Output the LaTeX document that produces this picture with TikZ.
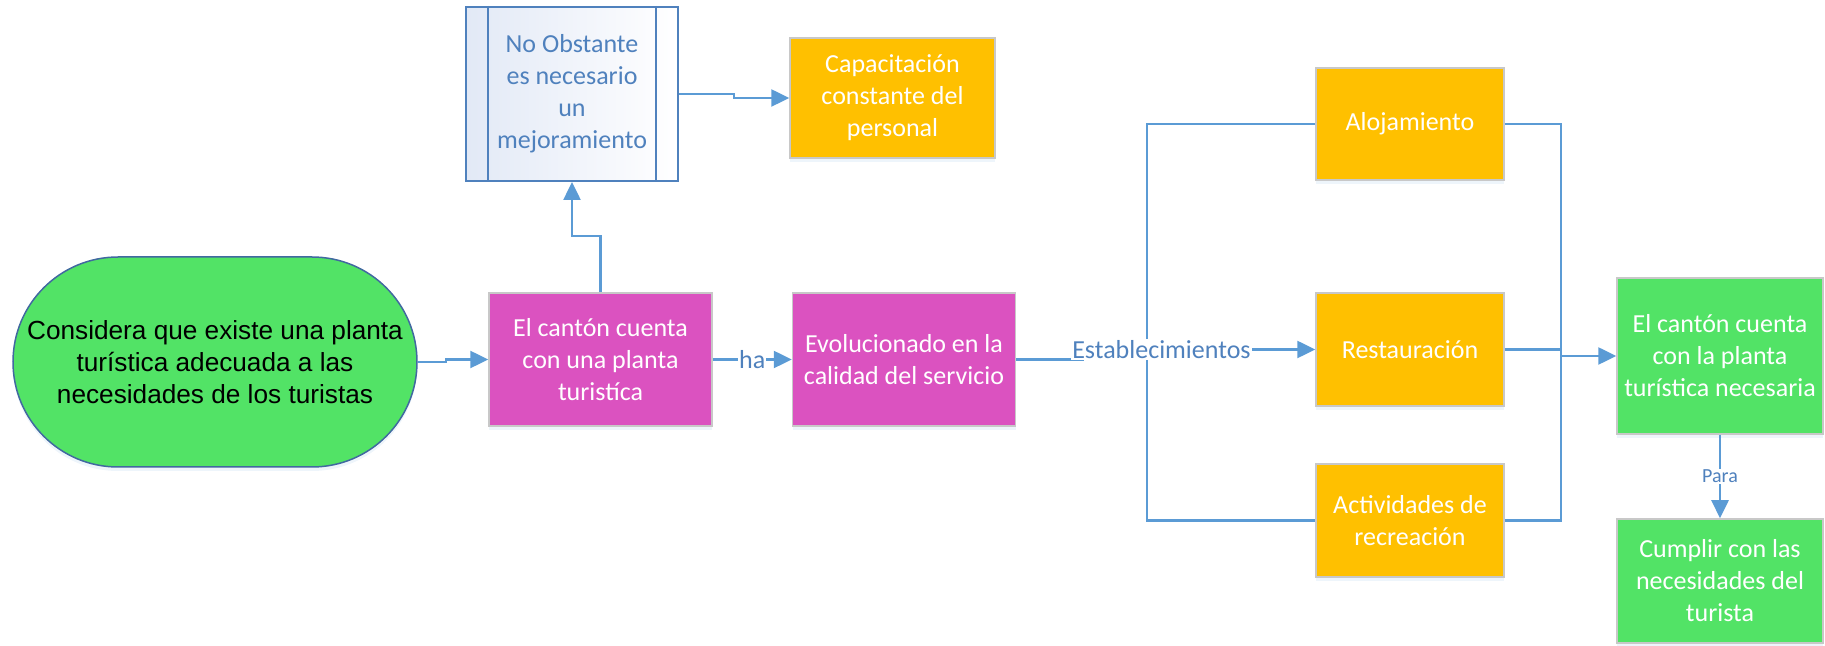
\documentclass[tikz,border=0pt]{standalone}
\usepackage{fontspec}
\setmainfont{Carlito}
\newfontfamily\arialfont{Liberation Sans}
\usepackage{xcolor}
\usetikzlibrary{arrows.meta, positioning, shadows}

\definecolor{boxgreen}{RGB}{82,227,102}
\definecolor{boxpink}{RGB}{219,82,192}
\definecolor{boxorange}{RGB}{255,192,0}
\definecolor{linkblue}{RGB}{91,155,213}
\definecolor{textblue}{RGB}{79,129,189}
\definecolor{termborder}{RGB}{65,105,160}
\definecolor{boxedge}{RGB}{200,200,200}
\definecolor{procfill}{RGB}{226,233,246}

\begin{document}
\begin{tikzpicture}[x=1pt, y=1pt,
  boxbase/.style={draw=boxedge, line width=1.5pt, inner sep=0pt, align=center,
                  text=white, font=\fontsize{26}{32}\selectfont,
                  drop shadow={shadow xshift=0pt, shadow yshift=-4pt, opacity=0.25, fill=linkblue!40}},
  pinkbox/.style={boxbase, fill=boxpink, minimum width=223pt, minimum height=133pt},
  orangebox/.style={boxbase, fill=boxorange, minimum width=188pt, minimum height=113pt},
  greenbox/.style={boxbase, fill=boxgreen, minimum width=206pt},
  startnode/.style={draw=termborder, line width=1.5pt, fill=boxgreen, rounded corners=105pt,
                    minimum width=404pt, minimum height=210pt, inner sep=0pt, align=center,
                    font=\arialfont\fontsize{26.2}{32}\selectfont,
                    drop shadow={shadow xshift=0pt, shadow yshift=-4pt, opacity=0.25, fill=linkblue!40}},
  procbox/.style={draw=textblue, line width=2pt, left color=procfill, right color=white,
                  text=textblue, align=center, inner sep=0pt, font=\fontsize{26}{32}\selectfont,
                  minimum width=212pt, minimum height=174pt},
  conn/.style={draw=linkblue, line width=2.5pt, -{Triangle[length=18pt, width=17pt]}},
  branch/.style={draw=linkblue, line width=2.5pt},
  lbl/.style={text=textblue, font=\fontsize{26}{32}\selectfont, fill=white, inner sep=1pt}
]
  \useasboundingbox (0,0) rectangle (1825,645);
  % Main row
  \node[startnode] (start) at (215,283) {Considera que existe una planta\\turística adecuada a las\\necesidades de los turistas};
  \node[pinkbox] (planta) at (600.5,285.5) {El cantón cuenta\\con una planta\\turistíca};
  \node[pinkbox, right=79pt of planta] (evol) {Evolucionado en la\\calidad del servicio};
  % Upper branch
  \node[procbox] (nobst) at (572,551) {No Obstante\\es necesario\\un\\mejoramiento};
  \foreach \side/\dx in {west/23, east/-23}
    \draw[textblue, line width=2pt] ([xshift=\dx pt]nobst.north \side) -- ([xshift=\dx pt]nobst.south \side);
  \node[orangebox, minimum width=205pt, minimum height=120pt] (capac) at (892.5,547) {Capacitación\\constante del\\personal};
  % Establishments
  \node[orangebox, minimum height=112pt] (aloj) at (1410,521) {Alojamiento};
  \node[orangebox] (resta) at (1410,295.5) {Restauración};
  \node[orangebox] (activ) at (1410,124.5) {Actividades de\\recreación};
  % Result
  \node[greenbox, minimum height=156pt] (canton) at (1720,289) {El cantón cuenta\\con la planta\\turística necesaria};
  \node[greenbox, minimum height=124pt] (cumplir) at (1720,64) {Cumplir con las\\necesidades del\\turista};
  \coordinate (split) at (1147,285);
  \coordinate (merge) at (1561,289);
  % Connectors
  \draw[conn] (start.east) -- ++(28,0) |- (planta.west);
  \draw[conn] (planta.north) -- ++(0,56) -| (nobst.south);
  \draw[conn] (nobst.east) -- ++(55,0) |- (capac.west);
  \draw[conn] (planta.east) -- node[lbl] {ha} (evol.west);
  \draw[branch] (aloj.west) -| (split) |- (activ.west);
  \draw[conn] (evol.east) -- ++(66,0) |- node[lbl, pos=0.67] {Establecimientos} (resta.west);
  \draw[branch] (aloj.east) -| (merge) |- (activ.east);
  \draw[branch] (resta.east) -- (resta.east -| merge);
  \draw[conn] (merge) -- (canton.west);
  \draw[conn] (canton.south) -- node[lbl, font=\fontsize{20}{24}\selectfont] {Para} (cumplir.north);
\end{tikzpicture}
\end{document}
